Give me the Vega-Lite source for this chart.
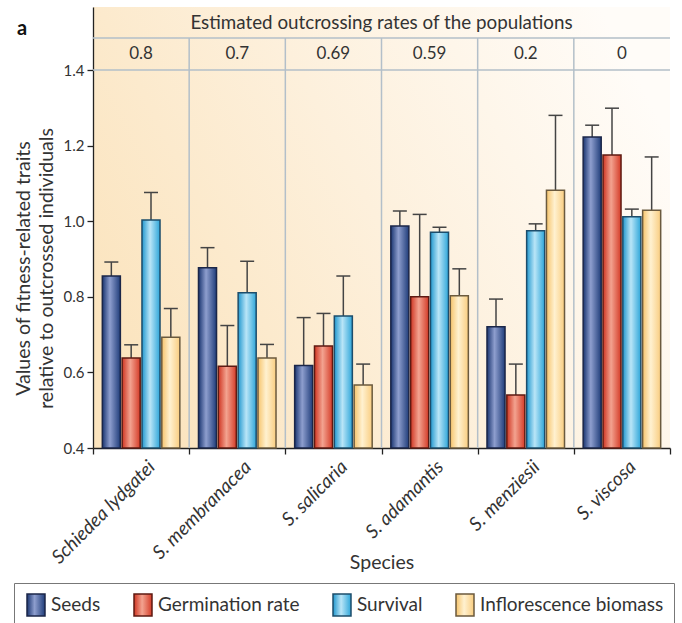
{
  "$schema": "https://vega.github.io/schema/vega-lite/v6.json",
  "autosize": {"type": "none"},
  "width": 577,
  "height": 441,
  "padding": {"left": 93, "top": 7, "right": 12, "bottom": 175},
  "background": "white",
  "title": {
    "text": "a",
    "anchor": "start",
    "frame": "group",
    "fontSize": 20,
    "fontWeight": "bold",
    "color": "#111111",
    "baseline": "alphabetic",
    "offset": 0,
    "dx": -76,
    "dy": 48
  },
  "config": {
    "font": "Lato",
    "view": {
      "stroke": null,
      "fill": {
        "gradient": "linear",
        "x1": 0, "y1": 0.7, "x2": 1, "y2": 0.3,
        "stops": [
          {"offset": 0, "color": "#fbe4be"},
          {"offset": 0.5, "color": "#fdf0dc"},
          {"offset": 1, "color": "#fffcf8"}
        ]
      }
    }
  },
  "datasets": {
    "traits": [
      {"species": "Schiedea lydgatei", "trait": "Seeds", "value": 0.855, "upper": 0.892},
      {"species": "Schiedea lydgatei", "trait": "Germination rate", "value": 0.638, "upper": 0.673},
      {"species": "Schiedea lydgatei", "trait": "Survival", "value": 1.003, "upper": 1.076},
      {"species": "Schiedea lydgatei", "trait": "Inflorescence biomass", "value": 0.693, "upper": 0.769},
      {"species": "S. membranacea", "trait": "Seeds", "value": 0.877, "upper": 0.930},
      {"species": "S. membranacea", "trait": "Germination rate", "value": 0.616, "upper": 0.724},
      {"species": "S. membranacea", "trait": "Survival", "value": 0.811, "upper": 0.894},
      {"species": "S. membranacea", "trait": "Inflorescence biomass", "value": 0.638, "upper": 0.674},
      {"species": "S. salicaria", "trait": "Seeds", "value": 0.618, "upper": 0.745},
      {"species": "S. salicaria", "trait": "Germination rate", "value": 0.670, "upper": 0.756},
      {"species": "S. salicaria", "trait": "Survival", "value": 0.749, "upper": 0.855},
      {"species": "S. salicaria", "trait": "Inflorescence biomass", "value": 0.567, "upper": 0.622},
      {"species": "S. adamantis", "trait": "Seeds", "value": 0.987, "upper": 1.027},
      {"species": "S. adamantis", "trait": "Germination rate", "value": 0.800, "upper": 1.018},
      {"species": "S. adamantis", "trait": "Survival", "value": 0.971, "upper": 0.984},
      {"species": "S. adamantis", "trait": "Inflorescence biomass", "value": 0.803, "upper": 0.874},
      {"species": "S. menziesii", "trait": "Seeds", "value": 0.721, "upper": 0.794},
      {"species": "S. menziesii", "trait": "Germination rate", "value": 0.540, "upper": 0.622},
      {"species": "S. menziesii", "trait": "Survival", "value": 0.975, "upper": 0.993},
      {"species": "S. menziesii", "trait": "Inflorescence biomass", "value": 1.082, "upper": 1.280},
      {"species": "S. viscosa", "trait": "Seeds", "value": 1.223, "upper": 1.254},
      {"species": "S. viscosa", "trait": "Germination rate", "value": 1.175, "upper": 1.299},
      {"species": "S. viscosa", "trait": "Survival", "value": 1.012, "upper": 1.032},
      {"species": "S. viscosa", "trait": "Inflorescence biomass", "value": 1.029, "upper": 1.170}
    ],
    "rates": [
      {"species": "Schiedea lydgatei", "rate": "0.8"},
      {"species": "S. membranacea", "rate": "0.7"},
      {"species": "S. salicaria", "rate": "0.69"},
      {"species": "S. adamantis", "rate": "0.59"},
      {"species": "S. menziesii", "rate": "0.2"},
      {"species": "S. viscosa", "rate": "0"}
    ]
  },
  "data": {"name": "traits"},
  "encoding": {
    "x": {
      "field": "species",
      "type": "nominal",
      "scale": {
        "type": "band",
        "domain": ["Schiedea lydgatei", "S. membranacea", "S. salicaria", "S. adamantis", "S. menziesii", "S. viscosa"],
        "paddingInner": 0,
        "paddingOuter": 0
      },
      "axis": {
        "title": "Species",
        "labelAngle": -45,
        "labelFontStyle": "italic",
        "labelFontSize": 19,
        "labelColor": "#333333",
        "labelPadding": 3,
        "labelOffset": 4,
        "tickBand": "extent",
        "tickSize": 6,
        "tickColor": "#222222",
        "tickWidth": 1.3,
        "domainColor": "#222222",
        "domainWidth": 1.3,
        "titleFontSize": 19.5,
        "titleFontWeight": "normal",
        "titleColor": "#333333",
        "titleY": 120,
        "titleBaseline": "alphabetic"
      }
    }
  },
  "layer": [
    {
      "data": {"name": "rates"},
      "transform": [{"filter": "datum.species !== 'Schiedea lydgatei'"}],
      "mark": {"type": "rule", "color": "#b3bfc9", "strokeWidth": 1.5},
      "encoding": {
        "x": {"field": "species", "type": "nominal", "bandPosition": 0},
        "y": {"datum": 0.4, "type": "quantitative"},
        "y2": {"datum": 1.485}
      }
    },
    {
      "data": {"values": [{"level": 1.4}, {"level": 1.485}]},
      "mark": {"type": "rule", "color": "#b3bfc9", "strokeWidth": 1.5},
      "encoding": {
        "x": null,
        "y": {"field": "level", "type": "quantitative"}
      }
    },
    {
      "data": {"values": [{"heading": "Estimated outcrossing rates of the populations"}]},
      "mark": {"type": "text", "fontSize": 18.8, "color": "#333333", "baseline": "middle", "align": "center"},
      "encoding": {
        "x": {"datum": "S. adamantis", "bandPosition": 0},
        "y": {"datum": 1.524, "type": "quantitative"},
        "text": {"field": "heading"}
      }
    },
    {
      "data": {"name": "rates"},
      "mark": {"type": "text", "fontSize": 17, "color": "#333333", "baseline": "middle", "align": "center"},
      "encoding": {
        "y": {"datum": 1.442, "type": "quantitative"},
        "text": {"field": "rate"}
      }
    },
    {
      "mark": {"type": "rule", "color": "#444444", "strokeWidth": 1.5},
      "encoding": {
        "xOffset": {"field": "trait", "scale": {"domain": ["Seeds", "Germination rate", "Survival", "Inflorescence biomass"], "paddingInner": 0.09, "paddingOuter": 0.47}},
        "y": {"field": "value", "type": "quantitative"},
        "y2": {"field": "upper"}
      }
    },
    {
      "mark": {"type": "tick", "orient": "horizontal", "size": 14, "thickness": 1.5, "color": "#444444", "opacity": 1},
      "encoding": {
        "xOffset": {"field": "trait"},
        "y": {"field": "upper", "type": "quantitative"}
      }
    },
    {
      "mark": {"type": "bar", "strokeWidth": 1.5, "opacity": 1},
      "encoding": {
        "xOffset": {"field": "trait"},
        "y": {
          "field": "value",
          "type": "quantitative",
          "scale": {"domain": [0.4, 1.5667], "nice": false, "zero": false},
          "axis": {
            "values": [0.4, 0.6, 0.8, 1.0, 1.2, 1.4],
            "format": ".1f",
            "grid": false,
            "domainColor": "#222222",
            "domainWidth": 1.3,
            "tickColor": "#222222",
            "tickWidth": 1.3,
            "tickSize": 6,
            "labelFontSize": 15,
            "labelColor": "#333333",
            "labelPadding": 3,
            "title": ["Values of fitness-related traits", "relative to outcrossed individuals"],
            "titleFontSize": 19.5,
            "titleFontWeight": "normal",
            "titleColor": "#333333",
            "titleLineHeight": 23,
            "titleY": 261,
            "titleX": -60,
            "titleBaseline": "bottom"
          }
        },
        "y2": {"datum": 0.4},
        "fill": {
          "field": "trait",
          "type": "nominal",
          "scale": {
            "domain": ["Seeds", "Germination rate", "Survival", "Inflorescence biomass"],
            "range": [
              {"expr": "{gradient: 'linear', x1: 0, y1: 0, x2: 1, y2: 0, stops: [{offset: 0, color: '#1a3570'}, {offset: 0.42, color: '#8e9ece'}, {offset: 1, color: '#203d7a'}]}"},
              {"expr": "{gradient: 'linear', x1: 0, y1: 0, x2: 1, y2: 0, stops: [{offset: 0, color: '#cf3522'}, {offset: 0.45, color: '#f3a390'}, {offset: 1, color: '#d43c28'}]}"},
              {"expr": "{gradient: 'linear', x1: 0, y1: 0, x2: 1, y2: 0, stops: [{offset: 0, color: '#2198cf'}, {offset: 0.45, color: '#b9e5f7'}, {offset: 1, color: '#2ea6d9'}]}"},
              {"expr": "{gradient: 'linear', x1: 0, y1: 0, x2: 1, y2: 0, stops: [{offset: 0, color: '#f6c46c'}, {offset: 0.45, color: '#fff1d0'}, {offset: 1, color: '#f9cd80'}]}"}
            ]
          },
          "legend": {
            "orient": "none",
            "legendX": -79,
            "legendY": 576,
            "direction": "horizontal",
            "title": null,
            "symbolType": "M-0.818,-1H0.818V1H-0.818Z",
            "symbolSize": 484,
            "symbolStrokeWidth": 1.5,
            "symbolOpacity": 1,
            "labelFontSize": 19,
            "labelColor": "#333333",
            "labelOffset": 3,
            "labelLimit": 300,
            "columnPadding": 30,
            "padding": 10,
            "strokeColor": "#777777",
            "fillColor": "white"
          }
        },
        "stroke": {
          "field": "trait",
          "type": "nominal",
          "scale": {
            "domain": ["Seeds", "Germination rate", "Survival", "Inflorescence biomass"],
            "range": ["#1b2648", "#5e1a12", "#1d4d6b", "#6b5a3e"]
          }
        }
      }
    }
  ]
}
